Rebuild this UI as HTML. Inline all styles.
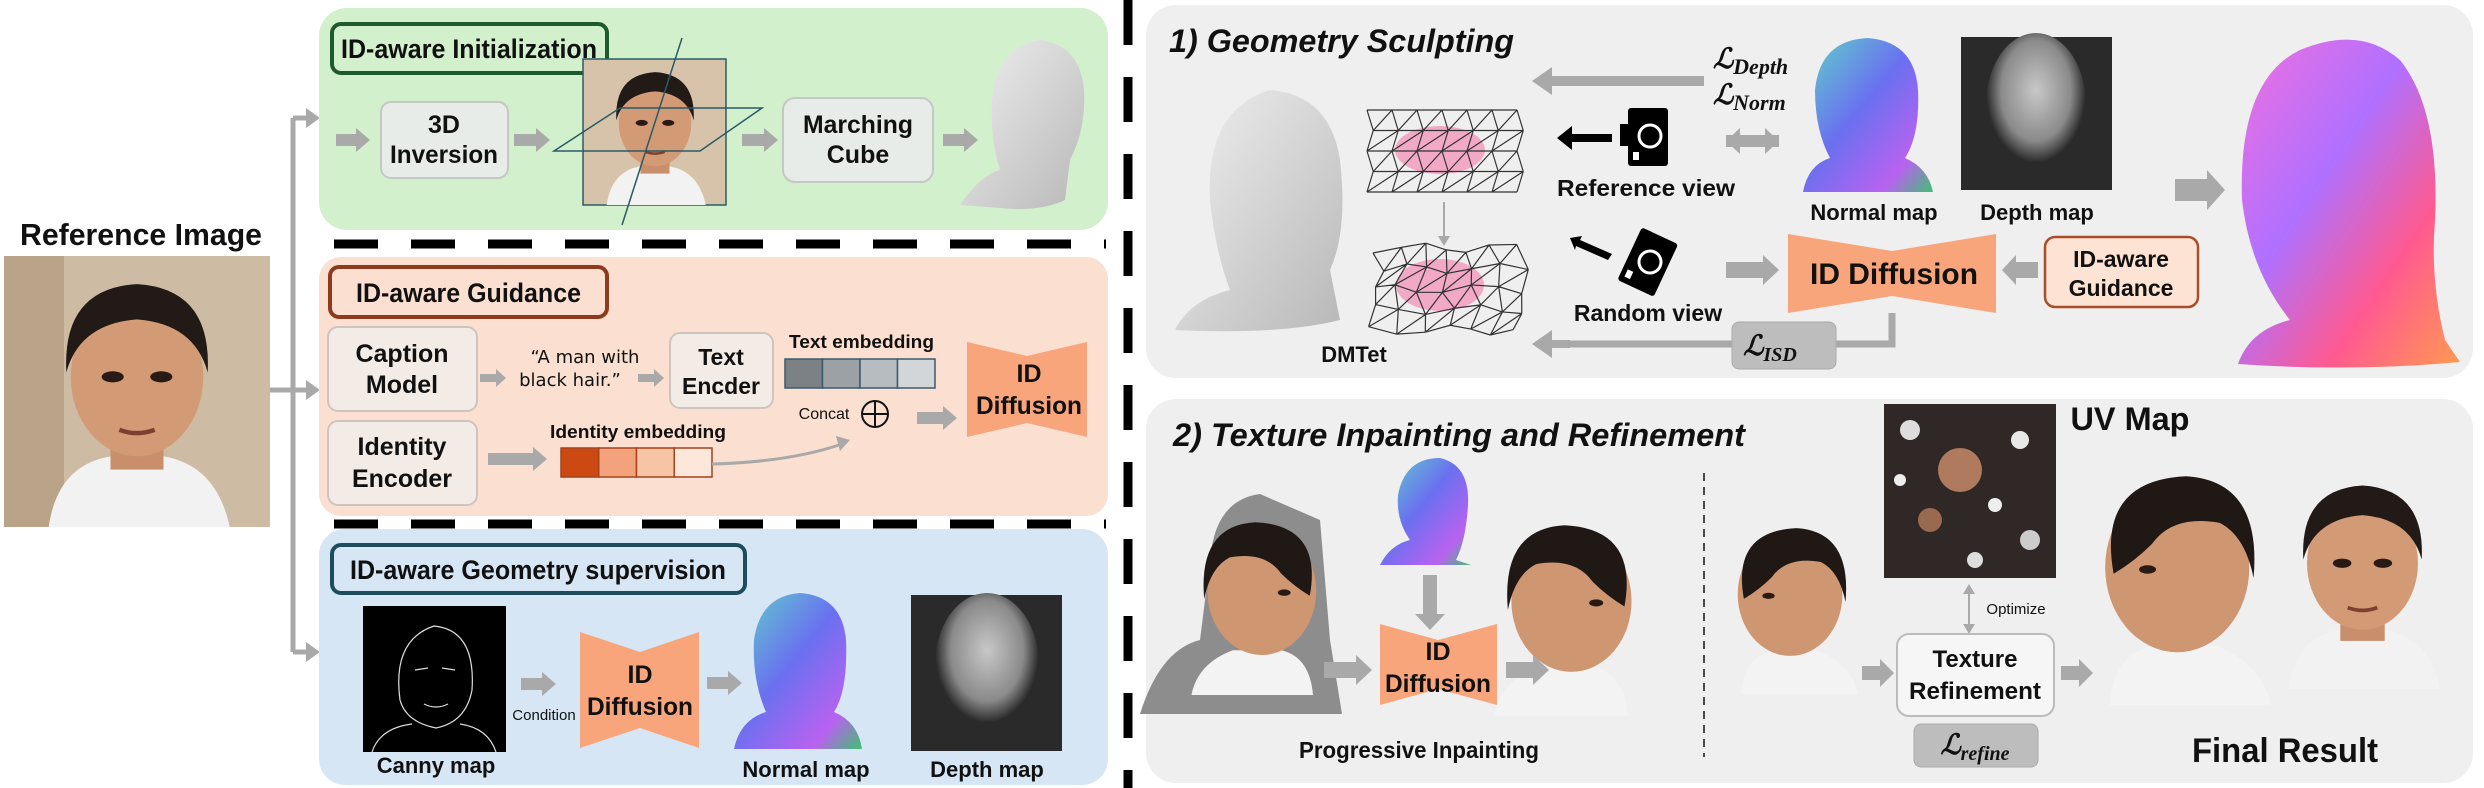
<!DOCTYPE html>
<html><head><meta charset="utf-8">
<style>
html,body{margin:0;padding:0;background:#fff;}
svg{display:block;}
text{font-family:"Liberation Sans Narrow","Liberation Sans",sans-serif;font-weight:bold;fill:#111;}
.it{font-style:italic;}
.ser{font-family:"Liberation Serif",serif;font-style:italic;font-weight:bold;}
</style></head>
<body>
<svg id="fig" width="2484" height="788" viewBox="0 0 2484 788" xmlns="http://www.w3.org/2000/svg">
<defs>
 <linearGradient id="normg" x1="0" y1="0" x2="1" y2="1">
  <stop offset="0" stop-color="#5fd6c8"/><stop offset="0.45" stop-color="#6a70f0"/><stop offset="0.8" stop-color="#b862f0"/><stop offset="1" stop-color="#40c070"/>
 </linearGradient>
 <linearGradient id="bigg" x1="0" y1="0" x2="1" y2="1">
  <stop offset="0" stop-color="#f070e0"/><stop offset="0.4" stop-color="#b070ff"/><stop offset="0.7" stop-color="#ff5a90"/><stop offset="1" stop-color="#ff9a50"/>
 </linearGradient>
 <radialGradient id="depg" cx="0.5" cy="0.4" r="0.5">
  <stop offset="0" stop-color="#c8c8c8"/><stop offset="0.7" stop-color="#8a8a8a"/><stop offset="1" stop-color="#2a2a2a"/>
 </radialGradient>
 <linearGradient id="meshg" x1="0" y1="0" x2="1" y2="1">
  <stop offset="0" stop-color="#f0f0f0"/><stop offset="1" stop-color="#b8b8b8"/>
 </linearGradient>
 <symbol id="face" viewBox="0 0 100 120">
  <path d="M10 120 Q14 92 38 88 L62 88 Q86 92 92 120 Z" fill="#f2f2f2"/>
  <rect x="38" y="78" width="24" height="16" fill="#c98e6c"/>
  <ellipse cx="50" cy="52" rx="30" ry="36" fill="#d39a76"/>
  <path d="M18 50 Q16 12 50 10 Q84 12 82 50 Q76 28 50 26 Q24 28 18 50 Z" fill="#221a16"/>
  <ellipse cx="39" cy="52" rx="5" ry="2.5" fill="#2a1a14"/>
  <ellipse cx="61" cy="52" rx="5" ry="2.5" fill="#2a1a14"/>
  <path d="M42 76 Q50 79 58 76" stroke="#7a4030" stroke-width="2" fill="none"/>
 </symbol>
 <symbol id="headside" viewBox="0 0 100 120">
  <path d="M20 120 Q22 96 40 92 L70 92 Q92 100 96 120 Z" fill="#f3f3f3"/>
  <ellipse cx="52" cy="55" rx="34" ry="40" fill="#cf9672"/>
  <path d="M22 58 Q14 14 56 12 Q92 14 88 60 Q84 40 72 34 Q50 30 40 44 Q32 52 22 58 Z" fill="#1f1814"/>
  <ellipse cx="38" cy="56" rx="4" ry="2" fill="#2a1a14"/>
 </symbol>
</defs>

<!-- LEFT SIDE -->
<text x="20" y="245" font-size="31" textLength="242" lengthAdjust="spacingAndGlyphs">Reference Image</text>
<g>
 <rect x="4" y="256" width="266" height="271" fill="#cdbba3"/>
 <rect x="4" y="256" width="60" height="271" fill="#b9a48a"/>
 <use href="#face" x="12" y="262" width="250" height="265"/>
</g>
<g stroke="#a9a9a9" stroke-width="5" fill="none">
 <line x1="270" y1="390" x2="310" y2="390"/>
 <line x1="293" y1="118" x2="293" y2="652"/>
 <line x1="293" y1="118" x2="310" y2="118"/>
 <line x1="293" y1="652" x2="310" y2="652"/>
</g>
<g fill="#a9a9a9">
 <polygon points="306,108 320,118 306,128"/>
 <polygon points="306,380 320,390 306,400"/>
 <polygon points="306,642 320,652 306,662"/>
</g>

<!-- Green panel -->
<rect x="319" y="8" width="789" height="222" rx="28" fill="#d3f0cc"/>
<rect x="332" y="24" width="275" height="49" rx="9" fill="#d3f0cc" stroke="#1f5a2c" stroke-width="4"/>
<text x="341" y="58" font-size="27" textLength="256" lengthAdjust="spacingAndGlyphs">ID-aware Initialization</text>
<rect x="381" y="102" width="127" height="76" rx="10" fill="#e8ece8" stroke="#c4c8c4" stroke-width="2"/>
<text x="444" y="133" font-size="25" text-anchor="middle">3D</text>
<text x="444" y="163" font-size="25" text-anchor="middle" textLength="108" lengthAdjust="spacingAndGlyphs">Inversion</text>
<g>
 <rect x="583" y="59" width="143" height="146" fill="#d6c3aa" stroke="#2a5a66" stroke-width="1.5"/>
 <use href="#face" x="586" y="60" width="138" height="145"/>
 <line x1="682" y1="38" x2="622" y2="225" stroke="#2a5a66" stroke-width="1.5"/>
 <polygon points="554,151 620,108 762,108 700,151" fill="none" stroke="#2a5a66" stroke-width="1.5"/>
</g>
<rect x="783" y="98" width="150" height="84" rx="12" fill="#e8ece8" stroke="#c4c8c4" stroke-width="2"/>
<text x="858" y="133" font-size="25" text-anchor="middle" textLength="110" lengthAdjust="spacingAndGlyphs">Marching</text>
<text x="858" y="163" font-size="25" text-anchor="middle">Cube</text>
<g>
 <path d="M960 205 Q980 175 1000 170 Q990 140 992 100 Q996 48 1040 40 Q1080 45 1084 90 Q1086 130 1070 160 L1065 200 Q1040 212 1000 208 Z" fill="url(#meshg)"/>
</g>

<!-- dashed separators -->
<line x1="334" y1="244" x2="1106" y2="244" stroke="#000" stroke-width="9" stroke-dasharray="44 33"/>
<line x1="334" y1="524" x2="1106" y2="524" stroke="#000" stroke-width="9" stroke-dasharray="44 33"/>
<line x1="1128" y1="0" x2="1128" y2="788" stroke="#000" stroke-width="9" stroke-dasharray="45 32"/>

<!-- Pink panel -->
<rect x="319" y="257" width="789" height="259" rx="22" fill="#fbe0d1"/>
<rect x="330" y="267" width="277" height="50" rx="9" fill="#fbe0d1" stroke="#8e3a1c" stroke-width="4"/>
<text x="356" y="302" font-size="27" textLength="225" lengthAdjust="spacingAndGlyphs">ID-aware Guidance</text>
<rect x="328" y="327" width="149" height="84" rx="10" fill="#f3ebe6" stroke="#cfc4bd" stroke-width="2"/>
<text x="402" y="362" font-size="25" text-anchor="middle">Caption</text>
<text x="402" y="393" font-size="25" text-anchor="middle">Model</text>
<rect x="328" y="421" width="149" height="84" rx="10" fill="#f3ebe6" stroke="#cfc4bd" stroke-width="2"/>
<text x="402" y="455" font-size="25" text-anchor="middle">Identity</text>
<text x="402" y="487" font-size="25" text-anchor="middle">Encoder</text>
<text x="585" y="363" font-size="18" text-anchor="middle" style="font-family:'DejaVu Sans',sans-serif;font-weight:normal;" fill="#333">“A man with</text>
<text x="570" y="386" font-size="18" text-anchor="middle" style="font-family:'DejaVu Sans',sans-serif;font-weight:normal;" fill="#333">black hair.”</text>
<rect x="670" y="333" width="103" height="75" rx="10" fill="#f3ebe6" stroke="#cfc4bd" stroke-width="2"/>
<text x="721" y="365" font-size="23" text-anchor="middle">Text</text>
<text x="721" y="394" font-size="23" text-anchor="middle">Encder</text>
<text x="789" y="348" font-size="18" textLength="145" lengthAdjust="spacingAndGlyphs">Text embedding</text>
<g stroke="#3a5a70" stroke-width="1.5">
 <rect x="785" y="359" width="37.5" height="29" fill="#7c8186"/>
 <rect x="822.5" y="359" width="37.5" height="29" fill="#9ca1a6"/>
 <rect x="860" y="359" width="37.5" height="29" fill="#b7bcc0"/>
 <rect x="897.5" y="359" width="37.5" height="29" fill="#d2d6d9"/>
</g>
<text x="824" y="419" font-size="16" text-anchor="middle" style="font-weight:normal" fill="#333">Concat</text>
<g stroke="#111" stroke-width="2" fill="none">
 <circle cx="875" cy="414" r="13"/><line x1="862" y1="414" x2="888" y2="414"/><line x1="875" y1="401" x2="875" y2="427"/>
</g>
<text x="550" y="438" font-size="18" textLength="176" lengthAdjust="spacingAndGlyphs">Identity embedding</text>
<g stroke="#a4421c" stroke-width="1.5">
 <rect x="561" y="448" width="37.75" height="29" fill="#cc4a12"/>
 <rect x="598.75" y="448" width="37.75" height="29" fill="#f4a27c"/>
 <rect x="636.5" y="448" width="37.75" height="29" fill="#f8c4a6"/>
 <rect x="674.25" y="448" width="37.75" height="29" fill="#fde6da"/>
</g>
<path d="M712 464 Q790 462 842 444" stroke="#a9a9a9" stroke-width="3" fill="none"/>
<polygon points="836,436 850,440 840,451" fill="#a9a9a9"/>
<polygon points="967,342 1027,356 1087,342 1087,437 1027,423 967,437" fill="#f8a57c"/>
<text x="1029" y="382" font-size="25" text-anchor="middle">ID</text>
<text x="1029" y="414" font-size="25" text-anchor="middle" textLength="106" lengthAdjust="spacingAndGlyphs">Diffusion</text>

<!-- Blue panel -->
<rect x="319" y="529" width="789" height="256" rx="26" fill="#d6e6f5"/>
<rect x="332" y="545" width="413" height="48" rx="9" fill="#d6e6f5" stroke="#1b4d5c" stroke-width="4"/>
<text x="350" y="579" font-size="27" textLength="376" lengthAdjust="spacingAndGlyphs">ID-aware  Geometry supervision</text>
<g>
 <rect x="363" y="606" width="143" height="146" fill="#000"/>
 <path d="M400 700 Q392 640 434 626 Q476 630 472 690 Q466 722 436 728 Q406 722 400 700 Z M372 752 Q380 728 412 724 M496 752 Q488 728 460 724 M415 670 L428 668 M442 668 L455 670 M424 704 Q436 710 448 704" stroke="#ddd" stroke-width="1.2" fill="none"/>
</g>
<text x="436" y="773" font-size="22" text-anchor="middle">Canny map</text>
<text x="544" y="720" font-size="15" text-anchor="middle" style="font-weight:normal" fill="#333">Condition</text>
<polygon points="580,632 640,652 699,632 699,748 640,728 580,748" fill="#f8a57c"/>
<text x="640" y="683" font-size="25" text-anchor="middle">ID</text>
<text x="640" y="715" font-size="25" text-anchor="middle" textLength="106" lengthAdjust="spacingAndGlyphs">Diffusion</text>
<g>
 <path d="M734 749 Q740 720 766 712 Q752 680 754 640 Q760 596 800 593 Q842 596 846 640 Q848 690 834 712 Q858 722 862 749 Z" fill="url(#normg)"/>
</g>
<text x="806" y="777" font-size="22" text-anchor="middle">Normal map</text>
<g>
 <rect x="911" y="595" width="151" height="156" fill="#2a2a2a"/>
 <ellipse cx="987" cy="665" rx="52" ry="72" fill="url(#depg)"/>
</g>
<text x="987" y="777" font-size="22" text-anchor="middle">Depth map</text>

<!-- RIGHT TOP PANEL -->
<rect x="1146" y="5" width="1327" height="373" rx="30" fill="#efefef"/>
<text x="1169" y="52" font-size="32" class="it" textLength="345" lengthAdjust="spacingAndGlyphs">1) Geometry Sculpting</text>
<g>
 <path d="M1175 330 Q1190 300 1230 290 Q1215 250 1210 200 Q1205 110 1270 90 Q1330 95 1340 160 Q1348 230 1330 270 L1340 320 Q1280 335 1175 330 Z" fill="url(#meshg)"/>
</g>
<text x="1354" y="362" font-size="22" text-anchor="middle">DMTet</text>
<g id="meshTop">
 <ellipse cx="1440" cy="150" rx="45" ry="24" fill="#f2a9c6"/>
</g>
<g id="meshBot">
 <ellipse cx="1440" cy="285" rx="44" ry="26" fill="#f2a9c6"/>
</g>
<line x1="1444" y1="202" x2="1444" y2="238" stroke="#a9a9a9" stroke-width="2"/>
<polygon points="1438,236 1450,236 1444,246" fill="#a9a9a9"/>
<text x="1713" y="68" font-size="28" class="ser">ℒ<tspan font-size="22" dy="6">Depth</tspan></text>
<text x="1713" y="104" font-size="28" class="ser">ℒ<tspan font-size="22" dy="6">Norm</tspan></text>
<g>
 <polygon points="1557,138 1572,126 1572,134 1612,134 1612,142 1572,142 1572,150" fill="#000"/>
 <rect x="1628" y="108" width="40" height="58" rx="3" fill="#000"/>
 <rect x="1620" y="124" width="10" height="22" fill="#000"/>
 <circle cx="1650" cy="136" r="11" fill="none" stroke="#fff" stroke-width="3"/>
 <rect x="1633" y="152" width="6" height="8" fill="#fff"/>
</g>
<text x="1646" y="196" font-size="23" text-anchor="middle" textLength="178" lengthAdjust="spacingAndGlyphs">Reference view</text>
<g transform="rotate(25 1650 262)">
 <rect x="1628" y="234" width="40" height="58" rx="3" fill="#000"/>
 <circle cx="1650" cy="262" r="11" fill="none" stroke="#fff" stroke-width="3"/>
 <rect x="1633" y="278" width="6" height="8" fill="#fff"/>
</g>
<polygon points="1570,238 1582,236 1580,240 1612,254 1608,260 1576,246 1575,250" fill="#000"/>
<text x="1648" y="321" font-size="23" text-anchor="middle">Random view</text>
<g>
 <path d="M1803 192 Q1808 165 1830 158 Q1815 130 1815 90 Q1820 40 1868 38 Q1915 42 1918 90 Q1920 135 1905 158 Q1928 168 1933 192 Z" fill="url(#normg)"/>
</g>
<text x="1874" y="220" font-size="22" text-anchor="middle">Normal map</text>
<g>
 <rect x="1961" y="37" width="151" height="153" fill="#2a2a2a"/>
 <ellipse cx="2036" cy="105" rx="50" ry="72" fill="url(#depg)"/>
</g>
<text x="2037" y="220" font-size="22" text-anchor="middle">Depth map</text>
<polygon points="1788,234 1892,251 1996,234 1996,313 1892,296 1788,313" fill="#f8a57c"/>
<text x="1894" y="284" font-size="30" text-anchor="middle" textLength="168" lengthAdjust="spacingAndGlyphs">ID Diffusion</text>
<rect x="2045" y="237" width="153" height="70" rx="10" fill="#fde3d3" stroke="#a84e28" stroke-width="2.5"/>
<text x="2121" y="267" font-size="23" text-anchor="middle">ID-aware</text>
<text x="2121" y="296" font-size="23" text-anchor="middle">Guidance</text>
<polyline points="1892,313 1892,344 1560,344" stroke="#a9a9a9" stroke-width="7" fill="none"/>
<rect x="1732" y="322" width="104" height="47" rx="7" fill="#bdbdbd" stroke="#aaa"/>
<text x="1770" y="355" font-size="28" class="ser" text-anchor="middle">ℒ<tspan font-size="20" dy="6">ISD</tspan></text>
<g>
 <path d="M2238 364 Q2250 330 2290 320 Q2250 270 2242 200 Q2238 80 2300 50 Q2360 25 2400 60 Q2440 110 2435 220 Q2430 280 2445 340 L2460 362 Q2350 372 2238 364 Z" fill="url(#bigg)"/>
</g>

<!-- RIGHT BOTTOM PANEL -->
<rect x="1146" y="399" width="1327" height="384" rx="30" fill="#efefef"/>
<text x="1173" y="446" font-size="32" class="it" textLength="572" lengthAdjust="spacingAndGlyphs">2) Texture Inpainting and Refinement</text>
<g>
 <path d="M1140 714 Q1160 650 1200 640 L1210 560 Q1215 500 1260 494 L1320 520 L1330 640 L1342 714 Z" fill="#8d8d8d"/>
 <use href="#headside" x="1185" y="494" width="160" height="210" transform="matrix(-1 0 0 1 2530 0)"/>
</g>
<g>
 <path d="M1380 565 Q1390 545 1410 540 Q1396 520 1398 495 Q1405 458 1440 458 Q1470 465 1468 505 Q1466 540 1456 560 L1471 565 Z" fill="url(#normg)"/>
</g>
<polygon points="1380,624 1438,640 1497,624 1497,705 1438,689 1380,705" fill="#f8a57c"/>
<text x="1438" y="660" font-size="25" text-anchor="middle">ID</text>
<text x="1438" y="692" font-size="25" text-anchor="middle" textLength="106" lengthAdjust="spacingAndGlyphs">Diffusion</text>
<use href="#headside" x="1480" y="504" width="190" height="212" transform="matrix(-1 0 0 1 3150 0)"/>
<text x="1419" y="758" font-size="23" text-anchor="middle" textLength="240" lengthAdjust="spacingAndGlyphs">Progressive Inpainting</text>
<line x1="1704" y1="473" x2="1704" y2="757" stroke="#111" stroke-width="1.5" stroke-dasharray="8 6"/>
<use href="#headside" x="1710" y="499" width="154" height="206"/>
<g>
 <rect x="1884" y="404" width="172" height="174" fill="#2f2826"/>
 <circle cx="1910" cy="430" r="10" fill="#ddd"/><circle cx="1960" cy="470" r="22" fill="#b07a5e"/>
 <circle cx="2020" cy="440" r="9" fill="#e8e8e8"/><circle cx="1930" cy="520" r="12" fill="#9a6a50"/>
 <circle cx="2030" cy="540" r="10" fill="#ccc"/><circle cx="1995" cy="505" r="7" fill="#eee"/>
 <circle cx="1900" cy="480" r="6" fill="#eee"/><circle cx="1975" cy="560" r="8" fill="#ddd"/>
</g>
<text x="2130" y="430" font-size="32" text-anchor="middle" textLength="119" lengthAdjust="spacingAndGlyphs">UV Map</text>
<line x1="1969" y1="592" x2="1969" y2="626" stroke="#a9a9a9" stroke-width="2"/>
<polygon points="1963,594 1975,594 1969,584" fill="#a9a9a9"/>
<polygon points="1963,624 1975,624 1969,634" fill="#a9a9a9"/>
<text x="2016" y="614" font-size="15" text-anchor="middle" style="font-weight:normal" fill="#333">Optimize</text>
<rect x="1897" y="634" width="157" height="82" rx="12" fill="#f6f6f6" stroke="#bbb" stroke-width="2"/>
<text x="1975" y="667" font-size="24" text-anchor="middle">Texture</text>
<text x="1975" y="699" font-size="24" text-anchor="middle" textLength="132" lengthAdjust="spacingAndGlyphs">Refinement</text>
<rect x="1914" y="724" width="124" height="43" rx="7" fill="#bdbdbd" stroke="#aaa"/>
<text x="1975" y="754" font-size="28" class="ser" text-anchor="middle">ℒ<tspan font-size="20" dy="6">refine</tspan></text>
<use href="#headside" x="2067" y="440" width="212" height="276"/>
<use href="#face" x="2270" y="440" width="185" height="276"/>
<text x="2285" y="762" font-size="34" text-anchor="middle" textLength="186" lengthAdjust="spacingAndGlyphs">Final Result</text>

<g id="arrows"></g>
</svg>
<script>
// Block arrows: [x1, y1, x2, y2, shaftHalf, headHalf, headLen]
const arrowSpecs = [
 [336,140,370,140,6,12,14],[514,140,550,140,6,12,14],[742,140,778,140,6,12,14],[943,140,978,140,6,12,14],
 [480,378,506,378,4,9,10],[638,378,664,378,4,9,10],[488,459,547,459,6,12,14],[917,418,957,418,6,12,14],
 [521,684,556,684,6,12,14],[707,683,742,683,6,12,14],
 [1704,81,1532,81,5,14,20],[1726,141,1779,141,6,13,14],[1779,141,1726,141,6,13,14],[1726,270,1779,270,8,15,16],
 [2038,270,2002,270,8,15,14],[2175,190,2225,190,11,20,18],[1570,344,1532,344,4,14,20],
 [1430,575,1430,630,7,15,16],[1324,670,1372,670,8,15,16],[1506,670,1549,670,8,15,16],
 [1862,673,1894,673,7,14,14],[2061,673,2093,673,7,14,14]
];
const NS = 'http://www.w3.org/2000/svg';
const ag = document.getElementById('arrows');
arrowSpecs.forEach(function(a){
 const [x1,y1,x2,y2,s,h,l] = a;
 const dx=x2-x1, dy=y2-y1, L=Math.hypot(dx,dy), ux=dx/L, uy=dy/L, px=-uy, py=ux;
 const bx=x2-ux*l, by=y2-uy*l;
 const pts=[[x1+px*s,y1+py*s],[bx+px*s,by+py*s],[bx+px*h,by+py*h],[x2,y2],[bx-px*h,by-py*h],[bx-px*s,by-py*s],[x1-px*s,y1-py*s]];
 const p=document.createElementNS(NS,'polygon');
 p.setAttribute('points',pts.map(q=>q[0].toFixed(1)+','+q[1].toFixed(1)).join(' '));
 p.setAttribute('fill','#a9a9a9');
 
 
 ag.appendChild(p);
});
// tetrahedral mesh grids
function mesh(id, x0, y0, w, hgt, warp){
 const g=document.getElementById(id);
 const cols=6, rows=4, pts=[];
 for(let r=0;r<=rows;r++){pts.push([]);for(let c=0;c<=cols;c++){
  const off=(r%2)?w/cols/2:0;
  const wx=warp?Math.sin(r*1.3+c)*5:0, wy=warp?Math.cos(c*1.7+r)*5:0;
  pts[r].push([x0+c*w/cols+off*0.5+wx, y0+r*hgt/rows+wy]);}}
 let d='';
 for(let r=0;r<=rows;r++)for(let c=0;c<cols;c++){d+='M'+pts[r][c]+'L'+pts[r][c+1];}
 for(let r=0;r<rows;r++)for(let c=0;c<=cols;c++){d+='M'+pts[r][c]+'L'+pts[r+1][c]; if(c<cols)d+='M'+pts[r][c+1]+'L'+pts[r+1][c];}
 const p=document.createElementNS(NS,'path');
 p.setAttribute('d',d);p.setAttribute('stroke','#333');p.setAttribute('stroke-width','1.2');p.setAttribute('fill','none');
 
 
 g.appendChild(p);
}
mesh('meshTop',1367,110,150,82,false);
mesh('meshBot',1373,248,145,82,true);
</script>
</body></html>
